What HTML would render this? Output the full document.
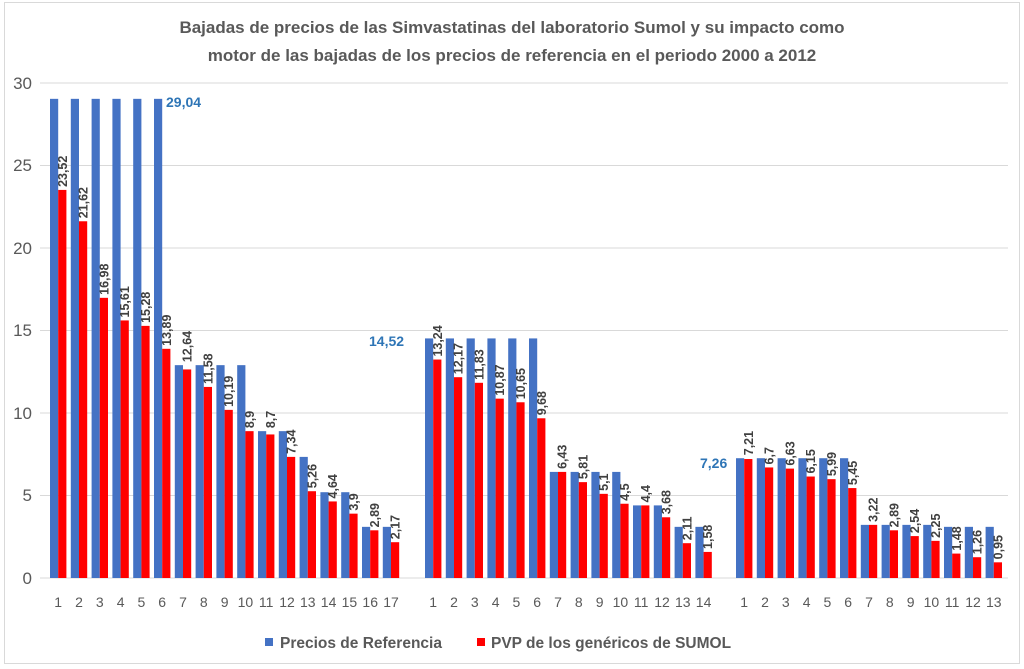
<!DOCTYPE html>
<html><head><meta charset="utf-8"><style>
body{margin:0;background:#fff}
svg{display:block;font-family:"Liberation Sans",sans-serif}
.b{fill:#4472C4}.r{fill:#FF0000}
.l{font-size:12.5px;font-weight:bold;fill:#404040}
.t{font-size:14px;fill:#595959;text-anchor:middle}
.y{font-size:17px;fill:#595959;text-anchor:end}
.h{font-size:14px;font-weight:bold;fill:#2E75B6}
</style></head><body>
<svg width="1024" height="669" viewBox="0 0 1024 669">
<rect x="4.5" y="2.5" width="1015" height="661" fill="#fff" stroke="#d9d9d9"/>
<text x="512" y="33" text-anchor="middle" font-size="17" font-weight="bold" fill="#595959">Bajadas de precios de las Simvastatinas del laboratorio Sumol y su impacto como</text>
<text x="512" y="61" text-anchor="middle" font-size="17" font-weight="bold" fill="#595959">motor de las bajadas de los precios de referencia en el periodo 2000 a 2012</text>
<g stroke="#d9d9d9" stroke-width="1">
<line x1="40" x2="1008" y1="83" y2="83"/><line x1="40" x2="1008" y1="165.5" y2="165.5"/><line x1="40" x2="1008" y1="248" y2="248"/><line x1="40" x2="1008" y1="330.5" y2="330.5"/><line x1="40" x2="1008" y1="413" y2="413"/><line x1="40" x2="1008" y1="495.5" y2="495.5"/><line x1="40" x2="1008" y1="578" y2="578"/>
</g>
<text class="y" x="32" y="89">30</text><text class="y" x="32" y="171">25</text><text class="y" x="32" y="254">20</text><text class="y" x="32" y="336">15</text><text class="y" x="32" y="419">10</text><text class="y" x="32" y="501">5</text><text class="y" x="32" y="584">0</text>

<!-- Group 1 -->
<g transform="translate(50 578)"><g transform="scale(1 -16.5)"><rect class="b" width="8.2" height="29.04"/><rect class="r" x="8.2" width="8.2" height="23.52"/></g><g transform="rotate(-90) scale(16.5 1) translate(23.52 0) scale(0.0606 1)"><text class="l" x="3" y="16.8">23,52</text></g><text class="t" x="8.2" y="29">1</text></g>
<g transform="translate(70.8 578)"><g transform="scale(1 -16.5)"><rect class="b" width="8.2" height="29.04"/><rect class="r" x="8.2" width="8.2" height="21.62"/></g><g transform="rotate(-90) scale(16.5 1) translate(21.62 0) scale(0.0606 1)"><text class="l" x="3" y="16.8">21,62</text></g><text class="t" x="8.2" y="29">2</text></g>
<g transform="translate(91.6 578)"><g transform="scale(1 -16.5)"><rect class="b" width="8.2" height="29.04"/><rect class="r" x="8.2" width="8.2" height="16.98"/></g><g transform="rotate(-90) scale(16.5 1) translate(16.98 0) scale(0.0606 1)"><text class="l" x="3" y="16.8">16,98</text></g><text class="t" x="8.2" y="29">3</text></g>
<g transform="translate(112.4 578)"><g transform="scale(1 -16.5)"><rect class="b" width="8.2" height="29.04"/><rect class="r" x="8.2" width="8.2" height="15.61"/></g><g transform="rotate(-90) scale(16.5 1) translate(15.61 0) scale(0.0606 1)"><text class="l" x="3" y="16.8">15,61</text></g><text class="t" x="8.2" y="29">4</text></g>
<g transform="translate(133.2 578)"><g transform="scale(1 -16.5)"><rect class="b" width="8.2" height="29.04"/><rect class="r" x="8.2" width="8.2" height="15.28"/></g><g transform="rotate(-90) scale(16.5 1) translate(15.28 0) scale(0.0606 1)"><text class="l" x="3" y="16.8">15,28</text></g><text class="t" x="8.2" y="29">5</text></g>
<g transform="translate(154 578)"><g transform="scale(1 -16.5)"><rect class="b" width="8.2" height="29.04"/><rect class="r" x="8.2" width="8.2" height="13.89"/></g><g transform="rotate(-90) scale(16.5 1) translate(13.89 0) scale(0.0606 1)"><text class="l" x="3" y="16.8">13,89</text></g><text class="t" x="8.2" y="29">6</text></g>
<g transform="translate(174.8 578)"><g transform="scale(1 -16.5)"><rect class="b" width="8.2" height="12.9"/><rect class="r" x="8.2" width="8.2" height="12.64"/></g><g transform="rotate(-90) scale(16.5 1) translate(12.9 0) scale(0.0606 1)"><text class="l" x="3" y="16.8">12,64</text></g><text class="t" x="8.2" y="29">7</text></g>
<g transform="translate(195.6 578)"><g transform="scale(1 -16.5)"><rect class="b" width="8.2" height="12.9"/><rect class="r" x="8.2" width="8.2" height="11.58"/></g><g transform="rotate(-90) scale(16.5 1) translate(11.58 0) scale(0.0606 1)"><text class="l" x="3" y="16.8">11,58</text></g><text class="t" x="8.2" y="29">8</text></g>
<g transform="translate(216.4 578)"><g transform="scale(1 -16.5)"><rect class="b" width="8.2" height="12.9"/><rect class="r" x="8.2" width="8.2" height="10.19"/></g><g transform="rotate(-90) scale(16.5 1) translate(10.19 0) scale(0.0606 1)"><text class="l" x="3" y="16.8">10,19</text></g><text class="t" x="8.2" y="29">9</text></g>
<g transform="translate(237.2 578)"><g transform="scale(1 -16.5)"><rect class="b" width="8.2" height="12.9"/><rect class="r" x="8.2" width="8.2" height="8.9"/></g><g transform="rotate(-90) scale(16.5 1) translate(8.9 0) scale(0.0606 1)"><text class="l" x="3" y="16.8">8,9</text></g><text class="t" x="8.2" y="29">10</text></g>
<g transform="translate(258 578)"><g transform="scale(1 -16.5)"><rect class="b" width="8.2" height="8.9"/><rect class="r" x="8.2" width="8.2" height="8.7"/></g><g transform="rotate(-90) scale(16.5 1) translate(8.9 0) scale(0.0606 1)"><text class="l" x="3" y="16.8">8,7</text></g><text class="t" x="8.2" y="29">11</text></g>
<g transform="translate(278.8 578)"><g transform="scale(1 -16.5)"><rect class="b" width="8.2" height="8.9"/><rect class="r" x="8.2" width="8.2" height="7.34"/></g><g transform="rotate(-90) scale(16.5 1) translate(7.34 0) scale(0.0606 1)"><text class="l" x="3" y="16.8">7,34</text></g><text class="t" x="8.2" y="29">12</text></g>
<g transform="translate(299.6 578)"><g transform="scale(1 -16.5)"><rect class="b" width="8.2" height="7.34"/><rect class="r" x="8.2" width="8.2" height="5.26"/></g><g transform="rotate(-90) scale(16.5 1) translate(5.26 0) scale(0.0606 1)"><text class="l" x="3" y="16.8">5,26</text></g><text class="t" x="8.2" y="29">13</text></g>
<g transform="translate(320.4 578)"><g transform="scale(1 -16.5)"><rect class="b" width="8.2" height="5.2"/><rect class="r" x="8.2" width="8.2" height="4.64"/></g><g transform="rotate(-90) scale(16.5 1) translate(4.64 0) scale(0.0606 1)"><text class="l" x="3" y="16.8">4,64</text></g><text class="t" x="8.2" y="29">14</text></g>
<g transform="translate(341.2 578)"><g transform="scale(1 -16.5)"><rect class="b" width="8.2" height="5.2"/><rect class="r" x="8.2" width="8.2" height="3.9"/></g><g transform="rotate(-90) scale(16.5 1) translate(3.9 0) scale(0.0606 1)"><text class="l" x="3" y="16.8">3,9</text></g><text class="t" x="8.2" y="29">15</text></g>
<g transform="translate(362 578)"><g transform="scale(1 -16.5)"><rect class="b" width="8.2" height="3.1"/><rect class="r" x="8.2" width="8.2" height="2.89"/></g><g transform="rotate(-90) scale(16.5 1) translate(2.89 0) scale(0.0606 1)"><text class="l" x="3" y="16.8">2,89</text></g><text class="t" x="8.2" y="29">16</text></g>
<g transform="translate(382.8 578)"><g transform="scale(1 -16.5)"><rect class="b" width="8.2" height="3.1"/><rect class="r" x="8.2" width="8.2" height="2.17"/></g><g transform="rotate(-90) scale(16.5 1) translate(2.17 0) scale(0.0606 1)"><text class="l" x="3" y="16.8">2,17</text></g><text class="t" x="8.2" y="29">17</text></g>

<!-- Group 2 -->
<g transform="translate(425 578)"><g transform="scale(1 -16.5)"><rect class="b" width="8.2" height="14.52"/><rect class="r" x="8.2" width="8.2" height="13.24"/></g><g transform="rotate(-90) scale(16.5 1) translate(13.24 0) scale(0.0606 1)"><text class="l" x="3" y="16.8">13,24</text></g><text class="t" x="8.2" y="29">1</text></g>
<g transform="translate(445.8 578)"><g transform="scale(1 -16.5)"><rect class="b" width="8.2" height="14.52"/><rect class="r" x="8.2" width="8.2" height="12.17"/></g><g transform="rotate(-90) scale(16.5 1) translate(12.17 0) scale(0.0606 1)"><text class="l" x="3" y="16.8">12,17</text></g><text class="t" x="8.2" y="29">2</text></g>
<g transform="translate(466.6 578)"><g transform="scale(1 -16.5)"><rect class="b" width="8.2" height="14.52"/><rect class="r" x="8.2" width="8.2" height="11.83"/></g><g transform="rotate(-90) scale(16.5 1) translate(11.83 0) scale(0.0606 1)"><text class="l" x="3" y="16.8">11,83</text></g><text class="t" x="8.2" y="29">3</text></g>
<g transform="translate(487.4 578)"><g transform="scale(1 -16.5)"><rect class="b" width="8.2" height="14.52"/><rect class="r" x="8.2" width="8.2" height="10.87"/></g><g transform="rotate(-90) scale(16.5 1) translate(10.87 0) scale(0.0606 1)"><text class="l" x="3" y="16.8">10,87</text></g><text class="t" x="8.2" y="29">4</text></g>
<g transform="translate(508.2 578)"><g transform="scale(1 -16.5)"><rect class="b" width="8.2" height="14.52"/><rect class="r" x="8.2" width="8.2" height="10.65"/></g><g transform="rotate(-90) scale(16.5 1) translate(10.65 0) scale(0.0606 1)"><text class="l" x="3" y="16.8">10,65</text></g><text class="t" x="8.2" y="29">5</text></g>
<g transform="translate(529 578)"><g transform="scale(1 -16.5)"><rect class="b" width="8.2" height="14.52"/><rect class="r" x="8.2" width="8.2" height="9.68"/></g><g transform="rotate(-90) scale(16.5 1) translate(9.68 0) scale(0.0606 1)"><text class="l" x="3" y="16.8">9,68</text></g><text class="t" x="8.2" y="29">6</text></g>
<g transform="translate(549.8 578)"><g transform="scale(1 -16.5)"><rect class="b" width="8.2" height="6.43"/><rect class="r" x="8.2" width="8.2" height="6.43"/></g><g transform="rotate(-90) scale(16.5 1) translate(6.43 0) scale(0.0606 1)"><text class="l" x="3" y="16.8">6,43</text></g><text class="t" x="8.2" y="29">7</text></g>
<g transform="translate(570.6 578)"><g transform="scale(1 -16.5)"><rect class="b" width="8.2" height="6.43"/><rect class="r" x="8.2" width="8.2" height="5.81"/></g><g transform="rotate(-90) scale(16.5 1) translate(5.81 0) scale(0.0606 1)"><text class="l" x="3" y="16.8">5,81</text></g><text class="t" x="8.2" y="29">8</text></g>
<g transform="translate(591.4 578)"><g transform="scale(1 -16.5)"><rect class="b" width="8.2" height="6.43"/><rect class="r" x="8.2" width="8.2" height="5.1"/></g><g transform="rotate(-90) scale(16.5 1) translate(5.1 0) scale(0.0606 1)"><text class="l" x="3" y="16.8">5,1</text></g><text class="t" x="8.2" y="29">9</text></g>
<g transform="translate(612.2 578)"><g transform="scale(1 -16.5)"><rect class="b" width="8.2" height="6.43"/><rect class="r" x="8.2" width="8.2" height="4.5"/></g><g transform="rotate(-90) scale(16.5 1) translate(4.5 0) scale(0.0606 1)"><text class="l" x="3" y="16.8">4,5</text></g><text class="t" x="8.2" y="29">10</text></g>
<g transform="translate(633 578)"><g transform="scale(1 -16.5)"><rect class="b" width="8.2" height="4.4"/><rect class="r" x="8.2" width="8.2" height="4.4"/></g><g transform="rotate(-90) scale(16.5 1) translate(4.4 0) scale(0.0606 1)"><text class="l" x="3" y="16.8">4,4</text></g><text class="t" x="8.2" y="29">11</text></g>
<g transform="translate(653.8 578)"><g transform="scale(1 -16.5)"><rect class="b" width="8.2" height="4.4"/><rect class="r" x="8.2" width="8.2" height="3.68"/></g><g transform="rotate(-90) scale(16.5 1) translate(3.68 0) scale(0.0606 1)"><text class="l" x="3" y="16.8">3,68</text></g><text class="t" x="8.2" y="29">12</text></g>
<g transform="translate(674.6 578)"><g transform="scale(1 -16.5)"><rect class="b" width="8.2" height="3.1"/><rect class="r" x="8.2" width="8.2" height="2.11"/></g><g transform="rotate(-90) scale(16.5 1) translate(2.11 0) scale(0.0606 1)"><text class="l" x="3" y="16.8">2,11</text></g><text class="t" x="8.2" y="29">13</text></g>
<g transform="translate(695.4 578)"><g transform="scale(1 -16.5)"><rect class="b" width="8.2" height="3.1"/><rect class="r" x="8.2" width="8.2" height="1.58"/></g><g transform="rotate(-90) scale(16.5 1) translate(1.58 0) scale(0.0606 1)"><text class="l" x="3" y="16.8">1,58</text></g><text class="t" x="8.2" y="29">14</text></g>

<!-- Group 3 -->
<g transform="translate(736 578)"><g transform="scale(1 -16.5)"><rect class="b" width="8.2" height="7.26"/><rect class="r" x="8.2" width="8.2" height="7.21"/></g><g transform="rotate(-90) scale(16.5 1) translate(7.26 0) scale(0.0606 1)"><text class="l" x="3" y="16.8">7,21</text></g><text class="t" x="8.2" y="29">1</text></g>
<g transform="translate(756.8 578)"><g transform="scale(1 -16.5)"><rect class="b" width="8.2" height="7.26"/><rect class="r" x="8.2" width="8.2" height="6.7"/></g><g transform="rotate(-90) scale(16.5 1) translate(6.7 0) scale(0.0606 1)"><text class="l" x="3" y="16.8">6,7</text></g><text class="t" x="8.2" y="29">2</text></g>
<g transform="translate(777.6 578)"><g transform="scale(1 -16.5)"><rect class="b" width="8.2" height="7.26"/><rect class="r" x="8.2" width="8.2" height="6.63"/></g><g transform="rotate(-90) scale(16.5 1) translate(6.63 0) scale(0.0606 1)"><text class="l" x="3" y="16.8">6,63</text></g><text class="t" x="8.2" y="29">3</text></g>
<g transform="translate(798.4 578)"><g transform="scale(1 -16.5)"><rect class="b" width="8.2" height="7.26"/><rect class="r" x="8.2" width="8.2" height="6.15"/></g><g transform="rotate(-90) scale(16.5 1) translate(6.15 0) scale(0.0606 1)"><text class="l" x="3" y="16.8">6,15</text></g><text class="t" x="8.2" y="29">4</text></g>
<g transform="translate(819.2 578)"><g transform="scale(1 -16.5)"><rect class="b" width="8.2" height="7.26"/><rect class="r" x="8.2" width="8.2" height="5.99"/></g><g transform="rotate(-90) scale(16.5 1) translate(5.99 0) scale(0.0606 1)"><text class="l" x="3" y="16.8">5,99</text></g><text class="t" x="8.2" y="29">5</text></g>
<g transform="translate(840 578)"><g transform="scale(1 -16.5)"><rect class="b" width="8.2" height="7.26"/><rect class="r" x="8.2" width="8.2" height="5.45"/></g><g transform="rotate(-90) scale(16.5 1) translate(5.45 0) scale(0.0606 1)"><text class="l" x="3" y="16.8">5,45</text></g><text class="t" x="8.2" y="29">6</text></g>
<g transform="translate(860.8 578)"><g transform="scale(1 -16.5)"><rect class="b" width="8.2" height="3.22"/><rect class="r" x="8.2" width="8.2" height="3.22"/></g><g transform="rotate(-90) scale(16.5 1) translate(3.22 0) scale(0.0606 1)"><text class="l" x="3" y="16.8">3,22</text></g><text class="t" x="8.2" y="29">7</text></g>
<g transform="translate(881.6 578)"><g transform="scale(1 -16.5)"><rect class="b" width="8.2" height="3.22"/><rect class="r" x="8.2" width="8.2" height="2.89"/></g><g transform="rotate(-90) scale(16.5 1) translate(2.89 0) scale(0.0606 1)"><text class="l" x="3" y="16.8">2,89</text></g><text class="t" x="8.2" y="29">8</text></g>
<g transform="translate(902.4 578)"><g transform="scale(1 -16.5)"><rect class="b" width="8.2" height="3.22"/><rect class="r" x="8.2" width="8.2" height="2.54"/></g><g transform="rotate(-90) scale(16.5 1) translate(2.54 0) scale(0.0606 1)"><text class="l" x="3" y="16.8">2,54</text></g><text class="t" x="8.2" y="29">9</text></g>
<g transform="translate(923.2 578)"><g transform="scale(1 -16.5)"><rect class="b" width="8.2" height="3.22"/><rect class="r" x="8.2" width="8.2" height="2.25"/></g><g transform="rotate(-90) scale(16.5 1) translate(2.25 0) scale(0.0606 1)"><text class="l" x="3" y="16.8">2,25</text></g><text class="t" x="8.2" y="29">10</text></g>
<g transform="translate(944 578)"><g transform="scale(1 -16.5)"><rect class="b" width="8.2" height="3.1"/><rect class="r" x="8.2" width="8.2" height="1.48"/></g><g transform="rotate(-90) scale(16.5 1) translate(1.48 0) scale(0.0606 1)"><text class="l" x="3" y="16.8">1,48</text></g><text class="t" x="8.2" y="29">11</text></g>
<g transform="translate(964.8 578)"><g transform="scale(1 -16.5)"><rect class="b" width="8.2" height="3.1"/><rect class="r" x="8.2" width="8.2" height="1.26"/></g><g transform="rotate(-90) scale(16.5 1) translate(1.26 0) scale(0.0606 1)"><text class="l" x="3" y="16.8">1,26</text></g><text class="t" x="8.2" y="29">12</text></g>
<g transform="translate(985.6 578)"><g transform="scale(1 -16.5)"><rect class="b" width="8.2" height="3.1"/><rect class="r" x="8.2" width="8.2" height="0.95"/></g><g transform="rotate(-90) scale(16.5 1) translate(0.95 0) scale(0.0606 1)"><text class="l" x="3" y="16.8">0,95</text></g><text class="t" x="8.2" y="29">13</text></g>

<text class="h" x="166" y="107">29,04</text>
<text class="h" x="369" y="346">14,52</text>
<text class="h" x="700" y="468">7,26</text>

<rect x="265" y="638" width="8" height="8" fill="#4472C4"/>
<text x="280" y="648" font-size="15.5" font-weight="bold" fill="#595959">Precios de Referencia</text>
<rect x="477" y="638" width="8" height="8" fill="#FF0000"/>
<text x="491" y="648" font-size="15.5" font-weight="bold" fill="#595959">PVP de los genéricos de SUMOL</text>
</svg>
</body></html>
